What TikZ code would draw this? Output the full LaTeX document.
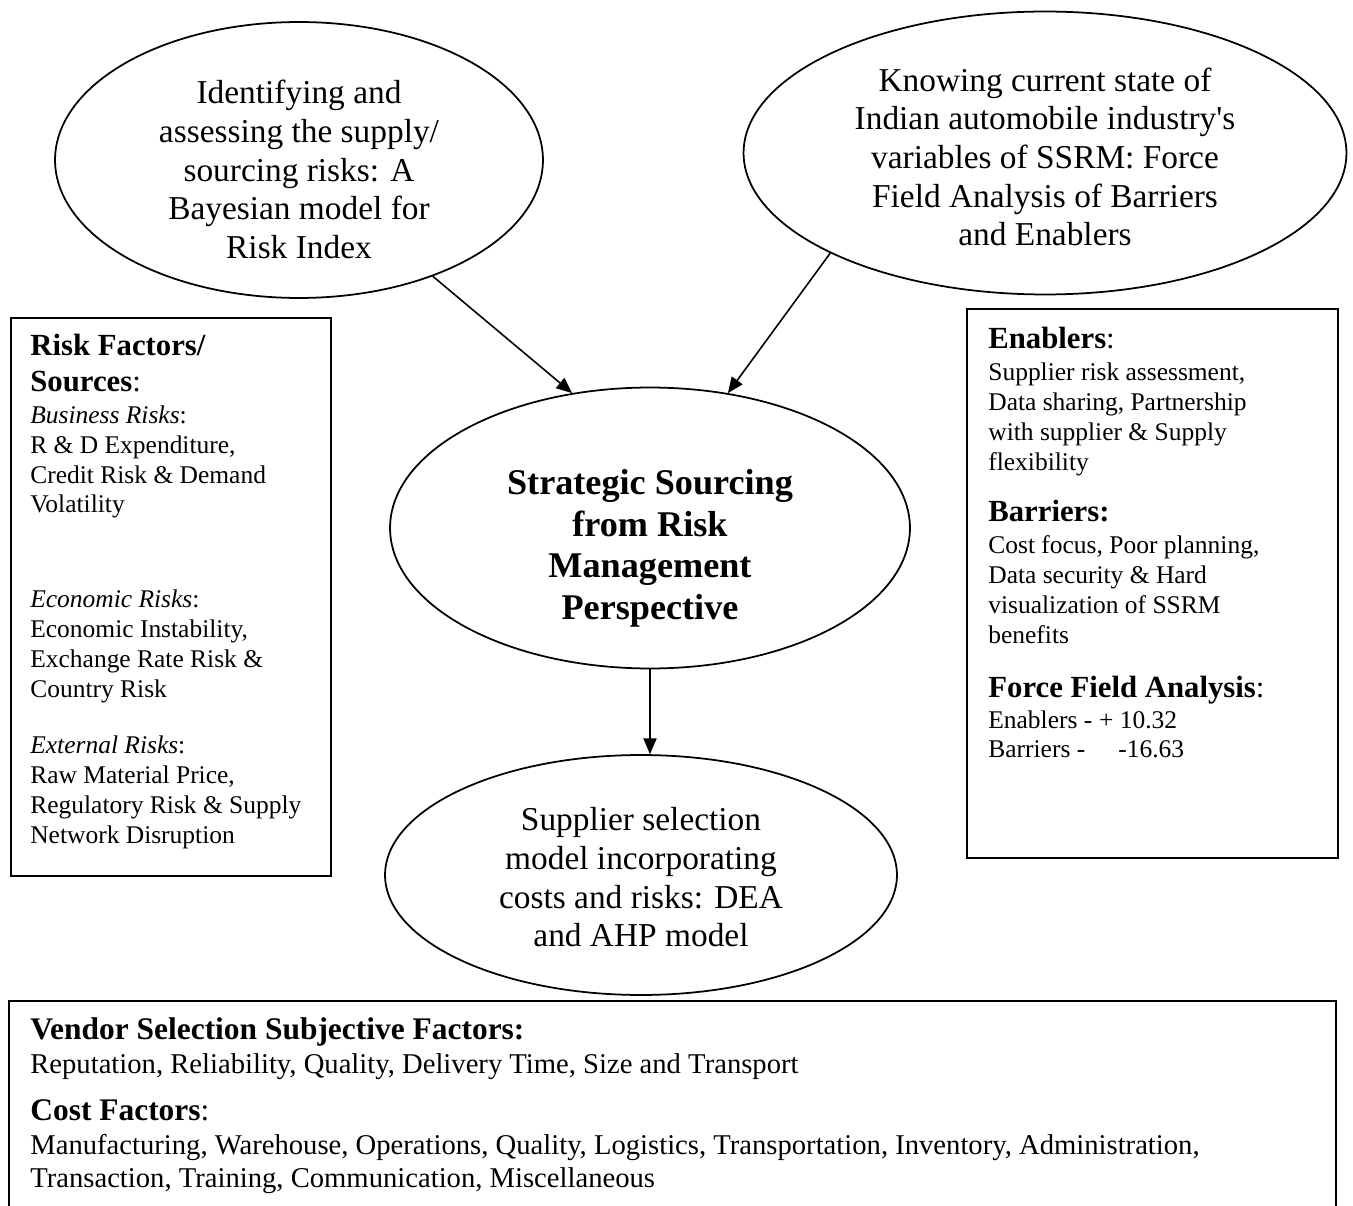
\documentclass[tikz,border=0pt]{standalone}
\usepackage{fontspec}
\setmainfont{Liberation Serif}
\usetikzlibrary{shapes.geometric,arrows.meta}
\newcommand{\hdsize}{\fontsize{17.5}{17}\selectfont}
\tikzset{
  bubble/.style={draw, ellipse, line width=1pt, inner sep=0pt},
  bubbletext/.style={align=center, inner sep=0pt, font=\fontsize{19}{22}\selectfont},
  panel/.style={draw, line width=1pt, inner sep=0pt, anchor=north west},
  paneltext/.style={anchor=north west, inner sep=0pt, align=left,
    font=\fontsize{14.5}{17}\selectfont},
  arr/.style={-{Triangle[length=9pt,width=7.5pt]}, line width=0.9pt}
}
\begin{document}
\begin{tikzpicture}[x=0.02cm, y=0.02cm]
  \clip (0,0) rectangle (1353,-1206);

  \node[bubble, minimum width=9.76cm, minimum height=5.52cm] (ident) at (299,-160) {};
  \node[bubbletext] (identtxt) at ([yshift=-5.4pt]ident.center)
    {Identifying and\\ assessing the supply/\\ sourcing risks: A\\ Bayesian model for\\ Risk Index};
  \node[bubble, minimum width=12.06cm, minimum height=5.66cm] (know) at (1045,-153) {};
  \node[bubbletext] (knowtxt) at ([yshift=-2.2pt]know.center)
    {Knowing current state of\\ Indian automobile industry\textquotesingle s\\ variables of SSRM: Force\\ Field Analysis of Barriers\\ and Enablers};
  \node[bubble, minimum width=10.4cm, minimum height=5.62cm] (ssrm) at (650,-528) {};
  \node[bubbletext, font=\fontsize{20.6}{23.6}\selectfont\bfseries] (ssrmtxt) at ([yshift=-11.5pt]ssrm.center)
    {Strategic Sourcing\\ from Risk\\ Management\\ Perspective};
  \node[bubble, minimum width=10.24cm, minimum height=4.8cm] (supp) at (641,-875) {};
  \node[bubbletext] (supptxt) at ([yshift=-1.4pt]supp.center)
    {Supplier selection\\ model incorporating\\ costs and risks: DEA\\ and AHP model};

  \node[panel, minimum width=6.4cm, minimum height=11.16cm] (risk) at (10,-317) {};
  \node[paneltext] (risktxt) at ([shift={(20,-17)}]risk.north west)
    {{\hdsize\textbf{Risk Factors/}}\\[3.4pt]
     {\hdsize\textbf{Sources}:}\\[1.1pt]
     \textit{Business Risks}:\\
     R \& D Expenditure,\\
     Credit Risk \& Demand\\
     Volatility\\[36.9pt]
     \textit{Economic Risks}:\\
     Economic Instability,\\
     Exchange Rate Risk \&\\
     Country Risk\\[15.3pt]
     \textit{External Risks}:\\
     Raw Material Price,\\
     Regulatory Risk \& Supply\\
     Network Disruption};

  \node[panel, minimum width=7.42cm, minimum height=10.98cm] (force) at (966,-308) {};
  \node[paneltext] (forcetxt) at ([shift={(22,-19)}]force.north west)
    {{\hdsize\textbf{Enablers}:}\\[1.1pt]
     Supplier risk assessment,\\
     Data sharing, Partnership\\
     with supplier \& Supply\\
     flexibility\\[12.5pt]
     {\hdsize\textbf{Barriers:}}\\[1.1pt]
     Cost focus, Poor planning,\\
     Data security \& Hard\\
     visualization of SSRM\\
     benefits\\[13.6pt]
     {\hdsize\textbf{Force Field Analysis}:}\\[0.6pt]
     \makebox[63pt][l]{Enablers -}+ 10.32\\
     \makebox[74pt][l]{Barriers -}-16.63};

  \node[panel, minimum width=26.54cm, minimum height=5cm] (vendor) at (8,-1000) {};
  \node[paneltext, font=\fontsize{16.3}{18.7}\selectfont] (vendortxt) at ([shift={(22,-17)}]vendor.north west)
    {{\fontsize{17.9}{18.7}\selectfont\textbf{Vendor Selection Subjective Factors:}}\\[1.1pt]
     Reputation, Reliability, Quality, Delivery Time, Size and Transport\\[7.9pt]
     {\fontsize{17.9}{18.7}\selectfont\textbf{Cost Factors}:}\\[0.6pt]
     Manufacturing, Warehouse, Operations, Quality, Logistics, Transportation, Inventory, Administration,\\
     Transaction, Training, Communication, Miscellaneous};

  \draw[arr] (ident.-41) -- (ssrm.120);
  \draw[arr] (know.205) -- (ssrm.60);
  \draw[arr] (ssrm.south) -- (ssrm.south |- supp.north);
\end{tikzpicture}
\end{document}
